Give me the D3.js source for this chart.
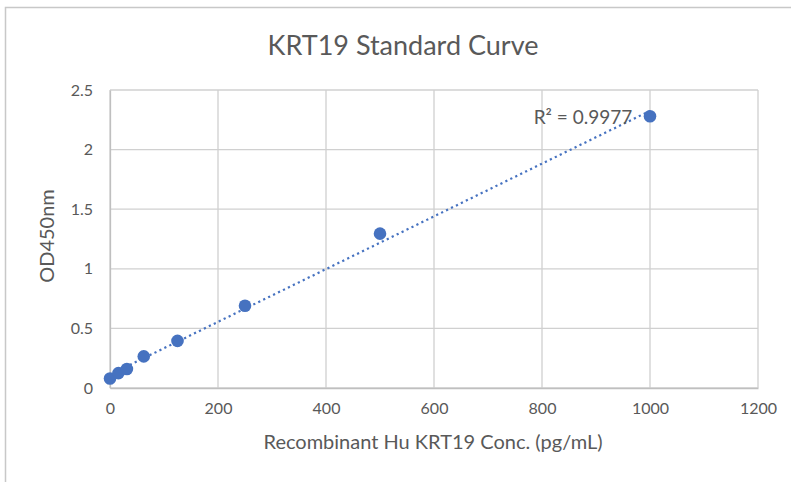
<!DOCTYPE html>
<html><head><meta charset="utf-8">
<script src="https://cdn.jsdelivr.net/npm/d3@7"></script>
<style>body{margin:0;background:#fff;} text{font-family:Lato,"Open Sans",sans-serif;}</style>
</head><body>
<svg id="c" width="791" height="482"></svg>
<script>
const concentrations = [0, 15.625, 31.25, 62.5, 125, 250, 500, 1000];
const odValues = [0.08, 0.125, 0.16, 0.265, 0.395, 0.69, 1.295, 2.28];
const xTicks = [0, 200, 400, 600, 800, 1000, 1200];
const yTicks = [0, 0.5, 1, 1.5, 2, 2.5];
const title = "KRT19 Standard Curve";
const xTitle = "Recombinant Hu KRT19 Conc. (pg/mL)";
const yTitle = "OD450nm";
const r2Label = "R² = 0.9977";

const FONT = "Lato,'Open Sans',sans-serif";
const svg = d3.select("#c");
const grey = "#595959";
const blue = "#4672C0";
// chart frame
svg.append("path").attr("d","M5.5,482 V7.5 H791").attr("fill","none").attr("stroke","#c8c8c8").attr("stroke-width",1.5);

const x = d3.scaleLinear().domain([0,1200]).range([110,758]);
const y = d3.scaleLinear().domain([0,2.5]).range([388,90]);

// gridlines
svg.append("g").selectAll("line").data(yTicks).join("line")
  .attr("x1",x(0)).attr("x2",x(1200)).attr("y1",d=>y(d)).attr("y2",d=>y(d))
  .attr("stroke","#d0d0d0").attr("stroke-width",1.3);
svg.append("g").selectAll("line").data(xTicks).join("line")
  .attr("y1",y(0)).attr("y2",y(2.5)).attr("x1",d=>x(d)).attr("x2",d=>x(d))
  .attr("stroke","#d0d0d0").attr("stroke-width",1.3);

// axes
const xa = svg.append("g").attr("transform",`translate(0,${y(0)})`)
  .call(d3.axisBottom(x).tickValues(xTicks).tickSize(0).tickPadding(15).tickFormat(d3.format("d")));
xa.select(".domain").attr("stroke","#bfbfbf").attr("stroke-width",1.3);
xa.selectAll("text").attr("fill",grey).attr("font-size",16).style("font-family",FONT);
const ya = svg.append("g").attr("transform",`translate(${x(0)},0)`)
  .call(d3.axisLeft(y).tickValues(yTicks).tickSize(0).tickPadding(17).tickFormat(d=>String(d)));
ya.select(".domain").attr("stroke","#bfbfbf").attr("stroke-width",1.3);
ya.selectAll("text").attr("fill",grey).attr("font-size",16).style("font-family",FONT);

// trendline (least squares)
const n = concentrations.length;
const mx = d3.mean(concentrations), my = d3.mean(odValues);
let sxy=0,sxx=0;
for(let i=0;i<n;i++){sxy+=(concentrations[i]-mx)*(odValues[i]-my);sxx+=(concentrations[i]-mx)**2;}
const slope=sxy/sxx, icpt=my-slope*mx;
const xMin = d3.min(concentrations), xMax = d3.max(concentrations);
svg.append("line").attr("x1",x(xMin)).attr("y1",y(icpt+slope*xMin))
  .attr("x2",x(xMax)).attr("y2",y(icpt+slope*xMax))
  .attr("stroke",blue).attr("stroke-width",2.2).attr("stroke-dasharray","2.2,3.3").attr("stroke-linecap","butt");

// points
svg.append("g").selectAll("circle").data(concentrations).join("circle")
  .attr("cx",d=>x(d)).attr("cy",(d,i)=>y(odValues[i])).attr("r",6.3).attr("fill",blue);

// R2 label
svg.append("text").attr("x",583).attr("y",124).attr("text-anchor","middle")
  .attr("fill",grey).attr("font-size",19).text(r2Label);

// titles
svg.append("text").attr("x",403).attr("y",55).attr("text-anchor","middle")
  .attr("fill",grey).attr("font-size",27).text(title);
svg.append("text").attr("x",433).attr("y",449).attr("text-anchor","middle")
  .attr("fill",grey).attr("font-size",20).text(xTitle);
svg.append("text").attr("transform","translate(54,236) rotate(-90)").attr("text-anchor","middle")
  .attr("fill",grey).attr("font-size",20).text(yTitle);
</script>
</body></html>
